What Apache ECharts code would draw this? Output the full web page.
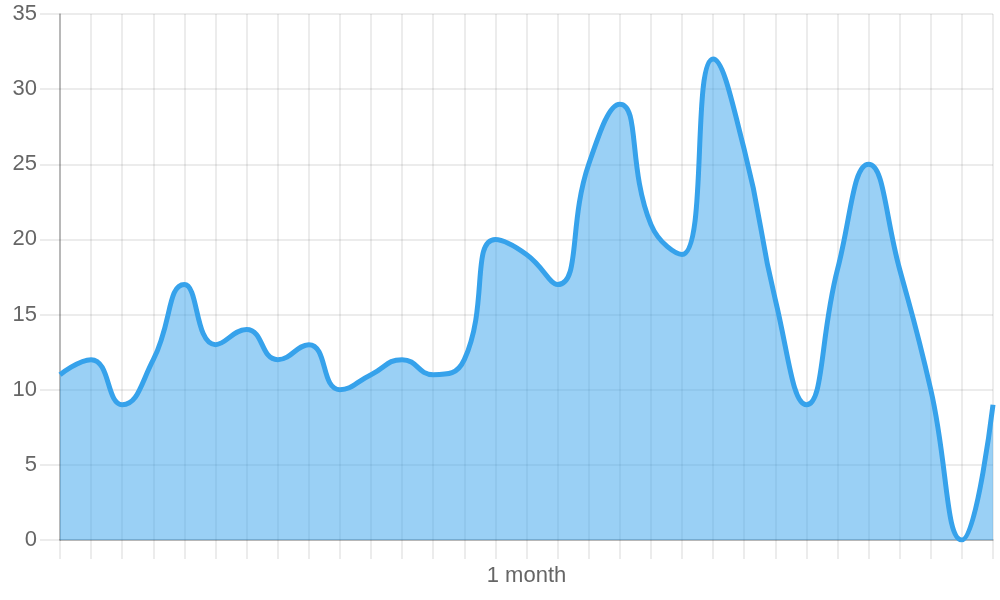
<!DOCTYPE html>
<html>
<head>
<meta charset="utf-8">
<script src="https://cdn.jsdelivr.net/npm/echarts@6/dist/echarts.min.js"></script>
<style>
  html, body { margin: 0; padding: 0; background: #fff; }
  #chart { width: 1000px; height: 600px; }
</style>
</head>
<body>
<div id="chart"></div>
<script>
// one point per day over the month
const days = [0, 1, 2, 3, 4, 5, 6, 7, 8, 9, 10, 11, 12, 13, 14, 15,
  16, 17, 18, 19, 20, 21, 22, 23, 24, 25, 26, 27, 28, 29, 30];
const values = [11, 12, 9, 12, 17, 13, 14, 12, 13, 10, 11, 12, 11, 12, 20, 19,
  17, 25, 29, 21, 19, 32, 26, 16, 9, 18, 25, 18, 10, 0, 9];
const yTicks = [0, 5, 10, 15, 20, 25, 30, 35];

const gridColor = 'rgba(0,0,0,0.1)';
const labelFont = {color: '#666', fontSize: 22, fontFamily: 'Liberation Sans, Arial, sans-serif'};

const chart = echarts.init(document.getElementById('chart'));
chart.setOption({
  animation: false,
  grid: {left: 60, right: 7, top: 14, bottom: 60},
  xAxis: {
    type: 'value',
    min: days[0],
    max: days[days.length - 1],
    interval: 1,
    name: '1 month',
    nameLocation: 'middle',
    nameGap: 25,
    nameTextStyle: labelFont,
    axisLine: {lineStyle: {color: 'rgba(0,0,0,0.3)', width: 1.5}},
    axisTick: {show: true, length: 19, lineStyle: {color: gridColor, width: 1.5}},
    axisLabel: {show: false},
    splitLine: {show: true, lineStyle: {color: gridColor, width: 1.5}}
  },
  yAxis: {
    type: 'value',
    min: yTicks[0],
    max: yTicks[yTicks.length - 1],
    interval: 5,
    axisLine: {show: true, lineStyle: {color: 'rgba(0,0,0,0.3)', width: 1.5}},
    axisTick: {show: true, length: 20, lineStyle: {color: gridColor, width: 1.5}},
    axisLabel: Object.assign({margin: 23}, labelFont),
    splitLine: {show: true, lineStyle: {color: gridColor, width: 1.5}}
  },
  series: [{
    type: 'line',
    data: days.map((d, i) => [d, values[i]]),
    smooth: 0.5,
    showSymbol: false,
    lineStyle: {color: '#36a2eb', width: 5},
    areaStyle: {color: 'rgba(54,162,235,0.5)', opacity: 1, origin: 'start'}
  }]
});
</script>
</body>
</html>
